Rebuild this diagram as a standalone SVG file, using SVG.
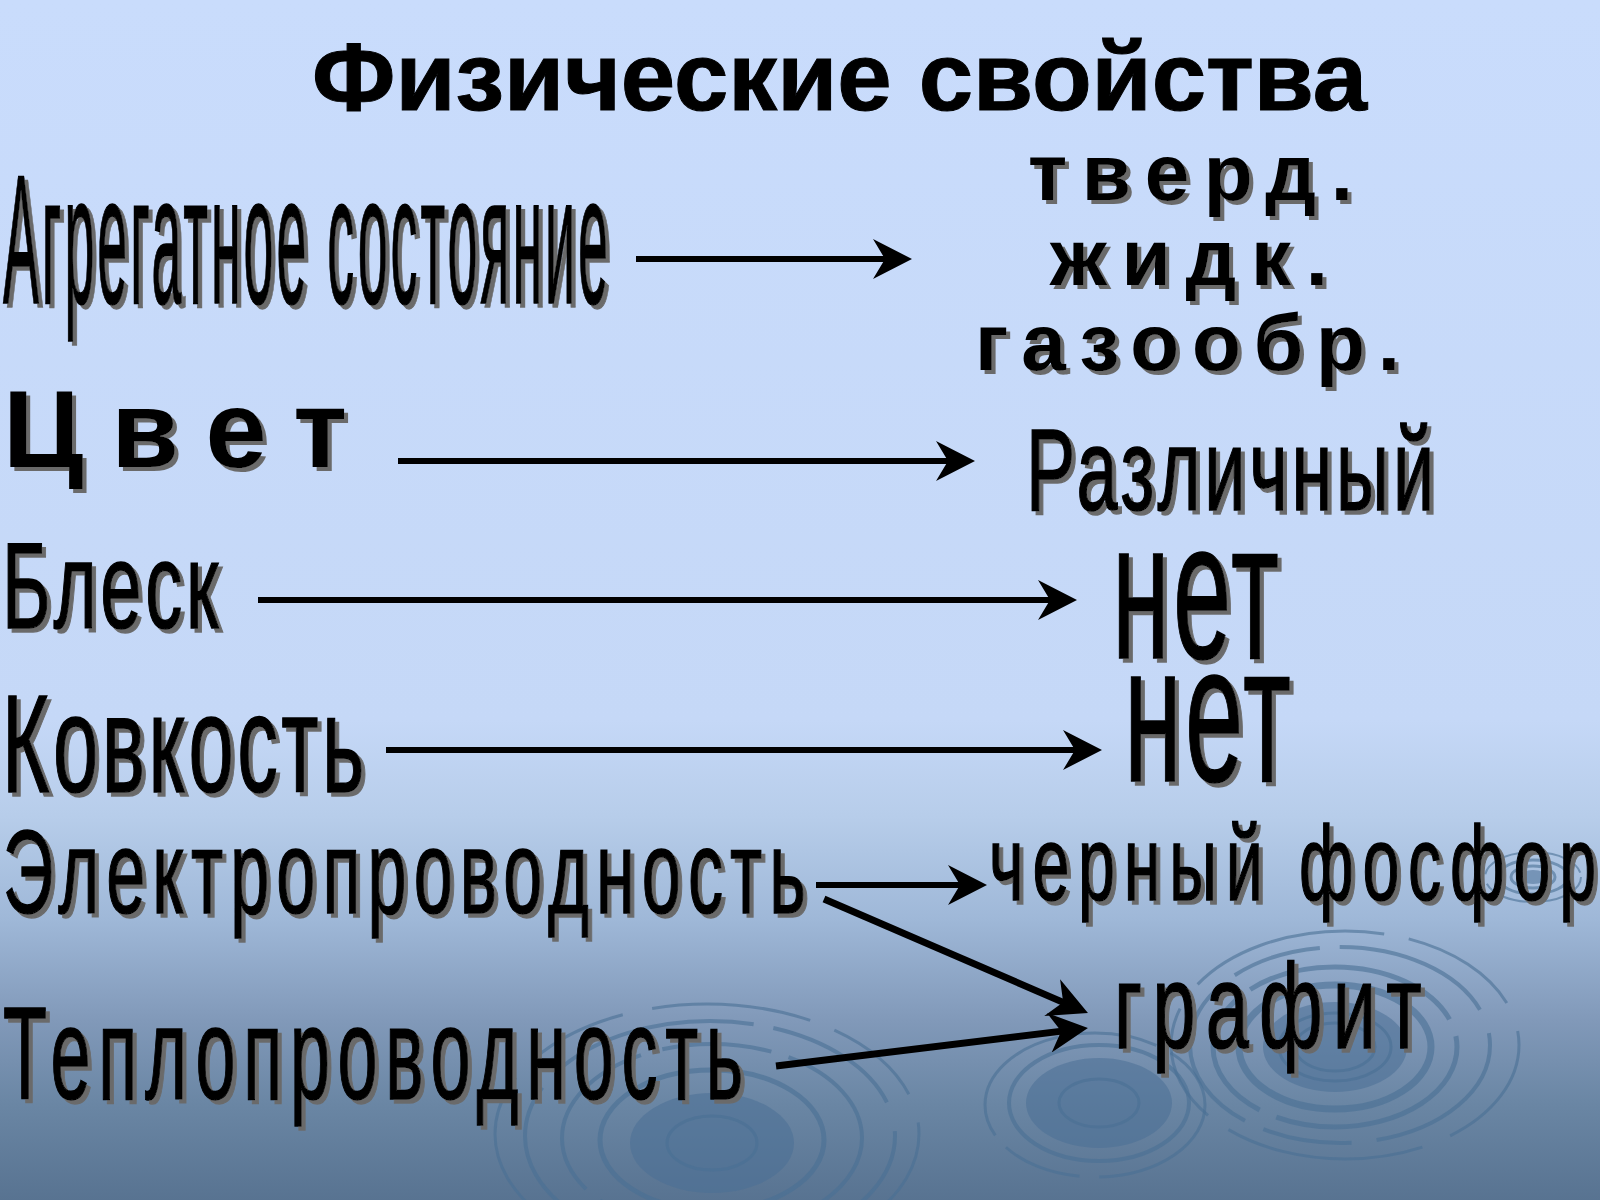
<svg xmlns="http://www.w3.org/2000/svg" width="1600" height="1200" viewBox="0 0 1600 1200">
<defs>
<linearGradient id="bg" x1="0" y1="0" x2="0" y2="1">
<stop offset="0" stop-color="#c9dcfc"/>
<stop offset="0.6" stop-color="#c5d8f7"/>
<stop offset="0.68" stop-color="#b7cdea"/>
<stop offset="0.765" stop-color="#9fb8d8"/>
<stop offset="0.85" stop-color="#8199b9"/>
<stop offset="0.92" stop-color="#6a86a4"/>
<stop offset="1" stop-color="#587391"/>
</linearGradient>
<filter id="sh" x="-10%" y="-20%" width="125%" height="150%">
<feDropShadow dx="4" dy="4" stdDeviation="0" flood-color="#6a6a6a" flood-opacity="1"/>
</filter>
<marker id="ah" markerUnits="userSpaceOnUse" markerWidth="40" markerHeight="40" viewBox="0 0 40 40" refX="19" refY="20" orient="auto">
<path d="M0,0 L39,20 L0,40 L12,20 Z" fill="#000"/>
</marker>
<style>
.t{font-family:"Liberation Sans Narrow","Liberation Sans",Arial,sans-serif;font-weight:normal;fill:#000;stroke:#000;stroke-width:1.5;}
.w{font-family:"Liberation Sans",Arial,sans-serif;font-weight:bold;fill:#000;}
.s{filter:url(#sh);}
.c{stroke:#000;stroke-width:6;fill:none;marker-end:url(#ah);}
.d{stroke:#000;stroke-width:7;fill:none;marker-end:url(#ah);}
.r{fill:none;stroke:#4a6f95;stroke-opacity:0.6;}
.f{fill:#4a6f95;fill-opacity:0.55;}
</style>
</defs>
<g id="background">
<rect x="0" y="0" width="1600" height="1200" fill="url(#bg)"/>
</g>
<g id="ripples">
<ellipse class="f" cx="1335" cy="1047" rx="72" ry="45"/>
<ellipse class="r" cx="1335" cy="1047" rx="40" ry="24" stroke-width="3"/>
<ellipse class="r" cx="1335" cy="1047" rx="56" ry="34" stroke-width="3"/>
<ellipse class="r" cx="1335" cy="1047" rx="96" ry="62" stroke-width="7"/>
<ellipse class="r" cx="1335" cy="1047" rx="122" ry="80" stroke-width="5" stroke-dasharray="220 18 140 14"/>
<ellipse class="r" cx="1340" cy="1045" rx="150" ry="98" stroke-width="4" stroke-dasharray="160 25 90 20"/>
<ellipse class="r" cx="1345" cy="1045" rx="174" ry="114" stroke-width="3" stroke-dasharray="120 30 200 25"/>
<ellipse class="f" cx="1099" cy="1103" rx="73" ry="45"/>
<ellipse class="r" cx="1099" cy="1103" rx="40" ry="24" stroke-width="3"/>
<ellipse class="r" cx="1099" cy="1103" rx="90" ry="58" stroke-width="4"/>
<ellipse class="r" cx="1095" cy="1105" rx="110" ry="72" stroke-width="3" stroke-dasharray="140 20 80 16"/>
<ellipse class="f" cx="712" cy="1143" rx="82" ry="50"/>
<ellipse class="r" cx="712" cy="1143" rx="45" ry="27" stroke-width="3"/>
<ellipse class="r" cx="712" cy="1140" rx="112" ry="70" stroke-width="5"/>
<ellipse class="r" cx="712" cy="1138" rx="150" ry="94" stroke-width="4" stroke-dasharray="180 22 110 18"/>
<ellipse class="r" cx="710" cy="1136" rx="185" ry="115" stroke-width="4" stroke-dasharray="140 30 200 20"/>
<ellipse class="r" cx="707" cy="1134" rx="212" ry="130" stroke-width="3" stroke-dasharray="100 30 160 26"/>
<ellipse class="f" cx="1533" cy="877" rx="14" ry="7"/>
<ellipse class="r" cx="1533" cy="877" rx="22" ry="11" stroke-width="3"/>
<ellipse class="r" cx="1533" cy="877" rx="35" ry="17" stroke-width="3"/>
<ellipse class="r" cx="1533" cy="877" rx="48" ry="25" stroke-width="2" stroke-dasharray="50 10"/>
</g>
<g id="title">
<text class="w" x="312" y="110" font-size="97" stroke="#000" stroke-width="1" textLength="1055" lengthAdjust="spacingAndGlyphs">Физические свойства</text>
</g>
<g id="n-aggregate" class="s">
<text class="t" x="3" y="303" font-size="184" letter-spacing="10" textLength="608" lengthAdjust="spacingAndGlyphs">Агрегатное состояние</text>
</g>
<g id="n-states" class="s">
<text class="w" x="1028" y="200" font-size="80" textLength="325" lengthAdjust="spacing">тверд.</text>
<text class="w" x="1050" y="285" font-size="80" textLength="278" lengthAdjust="spacing">жидк.</text>
<text class="w" x="975" y="370" font-size="80" textLength="425" lengthAdjust="spacing">газообр.</text>
</g>
<g id="n-color" class="s">
<text class="w" x="3" y="467" font-size="110" textLength="344" lengthAdjust="spacing">Цвет</text>
</g>
<g id="n-various" class="s">
<text class="t" x="1026" y="510" font-size="116" letter-spacing="6" textLength="412" lengthAdjust="spacingAndGlyphs">Различный</text>
</g>
<g id="n-gloss" class="s">
<text class="t" x="2" y="628" font-size="122" letter-spacing="6" textLength="220" lengthAdjust="spacingAndGlyphs">Блеск</text>
</g>
<g id="n-no1" class="s">
<text class="t" x="1112" y="658" font-size="197" letter-spacing="6" textLength="170" lengthAdjust="spacingAndGlyphs">нет</text>
</g>
<g id="n-malleability" class="s">
<text class="t" x="2" y="792" font-size="140" letter-spacing="6" textLength="366" lengthAdjust="spacingAndGlyphs">Ковкость</text>
</g>
<g id="n-no2" class="s">
<text class="t" x="1124" y="781" font-size="197" letter-spacing="6" textLength="170" lengthAdjust="spacingAndGlyphs">нет</text>
</g>
<g id="n-electro" class="s">
<text class="t" x="3" y="913" font-size="119" letter-spacing="12" textLength="810" lengthAdjust="spacingAndGlyphs">Электропроводность</text>
</g>
<g id="n-blackphosphorus" class="s">
<text class="t" x="989" y="900" font-size="106" letter-spacing="14" textLength="616" lengthAdjust="spacingAndGlyphs">черный фосфор</text>
</g>
<g id="n-heat" class="s">
<text class="t" x="3" y="1099" font-size="131" letter-spacing="14" textLength="748" lengthAdjust="spacingAndGlyphs">Теплопроводность</text>
</g>
<g id="n-graphite" class="s">
<text class="t" x="1114" y="1048" font-size="121" letter-spacing="16" textLength="318" lengthAdjust="spacingAndGlyphs">графит</text>
</g>
<g id="connectors">
<line class="c" x1="636" y1="259" x2="892" y2="259"/>
<line class="c" x1="398" y1="461" x2="955" y2="461"/>
<line class="c" x1="258" y1="600" x2="1057" y2="600"/>
<line class="c" x1="386" y1="750" x2="1082" y2="750"/>
<line class="c" x1="816" y1="885" x2="967" y2="885"/>
<line class="d" x1="824" y1="899" x2="1069.6" y2="1005.1"/>
<line class="d" x1="776" y1="1066" x2="1068.1" y2="1030.4"/>
</g>
</svg>
